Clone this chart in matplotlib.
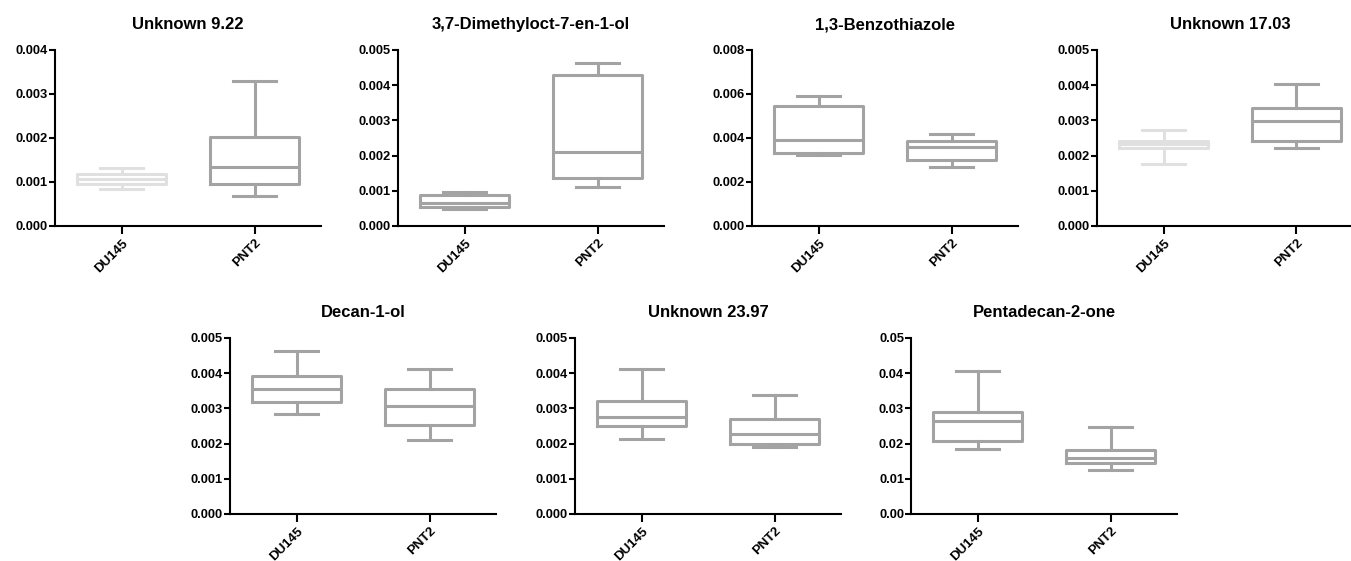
import matplotlib
matplotlib.use("Agg")
import matplotlib.pyplot as plt

plt.rcParams['font.family'] = ['Liberation Sans', 'DejaVu Sans']
plt.rcParams['font.weight'] = 'bold'

groups = ['DU145', 'PNT2']

titles = ['Unknown 9.22', '3,7-Dimethyloct-7-en-1-ol', '1,3-Benzothiazole', 'Unknown 17.03',
          'Decan-1-ol', 'Unknown 23.97', 'Pentadecan-2-one']

# five-number summaries: min, q1, median, q3, max
du145 = [
    [0.00084, 0.00095, 0.00106, 0.00118, 0.00131],
    [0.00049, 0.00055, 0.00064, 0.00088, 0.00098],
    [0.00321, 0.00333, 0.00389, 0.00546, 0.00593],
    [0.00175, 0.00221, 0.00233, 0.00242, 0.00274],
    [0.00285, 0.00317, 0.00356, 0.00393, 0.00463],
    [0.00213, 0.00249, 0.00276, 0.00320, 0.00411],
    [0.0184, 0.0208, 0.0264, 0.0291, 0.0407],
]
pnt2 = [
    [0.00068, 0.00096, 0.00135, 0.00203, 0.00330],
    [0.00110, 0.00136, 0.00210, 0.00429, 0.00462],
    [0.00269, 0.00300, 0.00359, 0.00386, 0.00418],
    [0.00221, 0.00242, 0.00298, 0.00334, 0.00403],
    [0.00210, 0.00254, 0.00306, 0.00354, 0.00411],
    [0.00191, 0.00198, 0.00228, 0.00270, 0.00339],
    [0.0125, 0.0144, 0.0158, 0.0181, 0.0247],
]

ymax = [0.004, 0.005, 0.008, 0.005, 0.005, 0.005, 0.05]
ystep = [0.001, 0.001, 0.002, 0.001, 0.001, 0.001, 0.01]
yfmt = ['%.3f'] * 6 + ['%.2f']
du_light = [True, False, False, True, False, False, False]

# axes left edges (px) and rows
W, H = 1351, 561
lefts = [55, 398, 752, 1097, 230, 575, 911]
bottoms = [226] * 4 + [514] * 3
ax_w, ax_h = 266, 176

fig = plt.figure(figsize=(W / 100, H / 100), dpi=100)

gray = '#a3a3a3'
light = '#e0e0e0'

for i in range(7):
    ax = fig.add_axes([lefts[i] / W, (H - bottoms[i]) / H, ax_w / W, ax_h / H])
    stats = []
    for vals, name in zip([du145[i], pnt2[i]], groups):
        mn, q1, med, q3, mx = vals
        stats.append(dict(whislo=mn, q1=q1, med=med, q3=q3, whishi=mx, label=name, fliers=[]))
    cols = [light if du_light[i] else gray, gray]
    for j, st in enumerate(stats):
        c = cols[j]
        lp = dict(color=c, linewidth=2.2)
        ax.bxp([st], positions=[j + 1], widths=0.67, capwidths=0.33, showfliers=False,
               boxprops=lp, whiskerprops=lp, capprops=lp, medianprops=lp)
    if i == 2:
        # dotted baseline at zero
        ax.axhline(0, color='#555555', lw=1, ls=':', zorder=1)
    ax.set_xlim(0.5, 2.5)
    ax.set_ylim(0, ymax[i])
    n = int(round(ymax[i] / ystep[i]))
    ticks = [k * ystep[i] for k in range(n + 1)]
    ax.set_yticks(ticks)
    ax.set_yticklabels([yfmt[i] % t for t in ticks], fontsize=9.3, fontweight='bold')
    ax.set_xticks([1, 2])
    ax.set_xticklabels(groups, rotation=45, ha='right', rotation_mode='anchor',
                       fontsize=9.5, fontweight='bold')
    ax.spines['top'].set_visible(False)
    ax.spines['right'].set_visible(False)
    ax.spines['left'].set_linewidth(1.5)
    ax.spines['bottom'].set_linewidth(1.5)
    ax.tick_params(axis='y', length=4, width=1.5, pad=1)
    ax.tick_params(axis='x', length=6, width=1.5, pad=2)
    ax.set_title(titles[i], fontsize=12, fontweight='bold', pad=15)

fig.savefig('out.png', dpi=100)
